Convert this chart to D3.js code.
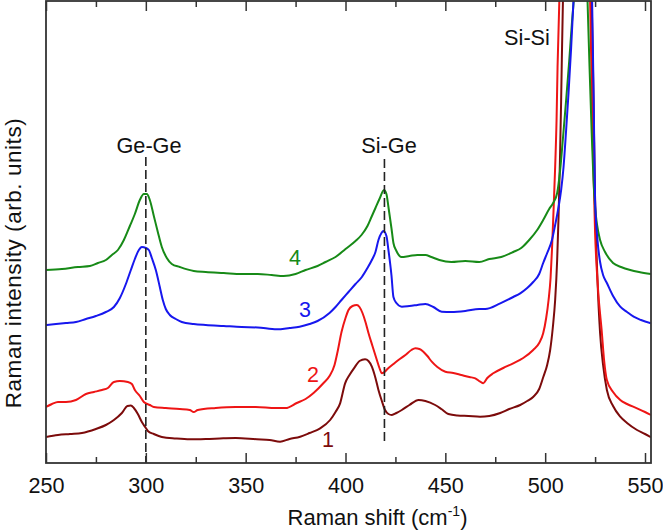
<!DOCTYPE html>
<html>
<head>
<meta charset="utf-8">
<script src="https://cdn.jsdelivr.net/npm/d3@7"></script>
<style>
  html, body { margin: 0; padding: 0; background: #fff; }
  svg { display: block; font-family: "Liberation Sans", Arial, sans-serif; }
</style>
</head>
<body>
<svg id="chart" width="663" height="530"></svg>
<script>
// ---- data (Raman shift in cm^-1, intensity in arbitrary units) ----
const majorTicks = [250, 300, 350, 400, 450, 500, 550];
const minorTicks = [275, 325, 375, 425, 475, 525];
const seriesNames = ["1", "2", "3", "4"];
const bandNames = ["Ge-Ge", "Si-Ge", "Si-Si"];
const bandShifts = [300, 419.5, 519];

const curve1 = [[250,26],[256,28],[262,29],[268,30],[275,34],[280,38],[284,43],[288,50],[290.8,57],[292.5,57.5],[294,55],[296,49],[298,41],[300,35],[301,32],[304,29],[308,26],[315,24.5],[322,23.7],[330,24],[338.8,24.7],[345,25],[355.6,23.7],[362,23],[367.2,21.3],[372,24],[377.3,26.3],[382,30],[387.3,34.7],[392.3,43],[395,51],[397.3,59.7],[399.8,79.7],[402,88],[404.8,96.3],[407,102],[409.8,103.7],[411.5,102],[413.2,96.3],[415,85],[416.5,73],[418.2,62],[419.8,53],[421.5,49],[423.2,48],[425.5,50],[428.2,53],[432,58],[436.6,63],[440,62],[444.9,58],[448,54],[451.5,49],[456,47.5],[461.6,47],[467.4,46.3],[472,47],[477.5,50],[482,54],[487.5,58],[491,62],[494.1,66.3],[497,74],[499.1,86.3],[501,98],[502.5,113],[503.8,135],[505,163],[506,203],[506.7,246],[507.4,303],[508,363],[508.9,463],[516,700],[523.3,463],[524.2,363],[525,263],[526.2,183],[527.5,130],[529,98],[530.9,73],[534,57],[537.6,46.3],[541,40],[546,33],[550,29],[553,25.7]];

const curve2 = [[250,56],[253,59],[256,61],[260,61],[265,63],[270,69],[274,71],[278,73],[281,75],[284,81],[287,82],[291,81],[293,79],[294.5,73],[297,67],[299,61],[302,58],[304,56],[310,55],[317,54],[322,53],[324,51],[326,53],[335,55],[345,56],[355,56],[365,55],[370,55],[375.6,60],[380,64],[384,70],[389,80],[392,87],[394.5,98],[396,111],[398,131],[400,145],[401.5,153],[403.5,157],[405.7,158],[407,156],[408.5,150],[410,141],[411.5,130],[413.5,117],[415.7,103],[417,95],[418.2,89.7],[419.5,91],[421,94],[424,99],[426.5,103],[430,108],[433,113],[435,114.7],[437,114],[439,111.3],[441,107],[443.2,101.3],[446,96],[450,91.3],[454,90],[458,88],[462,86],[465,84.7],[467.5,81.3],[469,79.7],[471,85],[474,89.7],[479,95],[484,99.7],[489,105],[494,113],[497,120],[499,129.7],[500.5,145],[501.7,163],[502.7,185],[503.4,213],[504.2,253],[505,296],[505.7,343],[506.2,396],[507.1,463],[515,700],[522.5,463],[523.7,330],[525,230],[526.5,173],[528.4,130],[529.5,103],[530.9,83],[534,71],[537.6,63],[541,59],[546,54.7],[550,51],[553,48]];

const curve3 = [[250,138],[255,139],[260,140],[265,141],[270,144],[275,147],[280,151],[284,156],[287,165],[290,179],[292.5,193],[294.5,204],[296.5,213],[298,216],[300,215],[301.5,213],[303,205],[305,193],[307,176],[308.5,163],[310,154],[312,148],[315,144],[318,141],[324,139],[330,138],[339,137],[348,136],[356,135.5],[365.6,133.7],[372,135],[377,136.3],[382,139],[386,142],[392,150],[395,156],[398,163],[401.5,171],[405,179],[408.2,186],[411,195],[413.2,203],[415,211],[416.5,223],[418,230],[419,232],[420.5,227],[421.5,213],[423,188],[424,166],[425.5,160],[428.2,156.3],[432,157],[436,158],[440,159],[444,156],[448.2,151.3],[453,151],[460,152],[467,154],[470,154],[477.5,159.7],[484,166],[487.5,169.7],[491,175],[494,181],[497,189],[499,200],[501,210],[503.4,223],[505,238],[506.7,256],[508,273],[509.2,296],[510.5,333],[511.7,370],[513,415],[514.2,463],[519,700],[523.5,463],[524.3,363],[525,263],[526.2,223],[527.5,201],[529,188],[530.9,180],[534,167],[537.6,156.3],[541,151],[544.3,146.3],[548,143],[553,139.7]];

const curve4 = [[250,193],[258,194],[266,196],[272,197],[276,200],[280,203],[283,208],[286,213],[289,223],[292,237],[294.5,249],[297,263],[299,269],[300.5,269],[302,263],[304,247],[306,231],[308,216],[310.5,205],[313,199],[317,196],[324,192],[330,191],[339,190],[348,189],[356,189],[363,188],[369,187],[375,189],[380,193],[386,197],[390,201],[395,206],[400,214],[405,222],[408,228],[411,237],[413,246],[415,255],[417,264],[419.3,273],[420.5,269],[421.5,256],[423,235],[424,220],[425.5,212],[428,206],[432,207],[436,208],[440,208],[443,206],[447,203],[453,201],[460,202],[467,201],[472,204],[478,206],[484,211],[488,215],[492,223],[496,233],[499,243],[502,254],[504,260],[506,270],[507.5,293],[509,327],[510.5,363],[512,401],[513.5,443],[514.5,468],[518,700],[521.2,463],[522.2,397],[523.3,330],[524.2,283],[525,256],[526,238],[527.5,223],[530,211],[534,200],[538,196],[542.6,193],[547,191],[553,189]];

// ---- layout ----
const svg = d3.select("#chart");
const L = 46, R = 651, T = 1, B = 463;
const x = d3.scaleLinear().domain([250, 553]).range([L, R]);
const y = d3.scaleLinear().domain([0, 462]).range([B, T]);

svg.append("defs").append("clipPath").attr("id", "plotclip")
  .append("rect").attr("x", L).attr("y", T).attr("width", R - L).attr("height", B - T);

const series = [
  { name: seriesNames[0], data: curve1, color: "#7c0b0b" },
  { name: seriesNames[1], data: curve2, color: "#ee1515" },
  { name: seriesNames[3], data: curve4, color: "#178a17" },
  { name: seriesNames[2], data: curve3, color: "#1717ee" }
];

const line = d3.line().x(d => x(d[0])).y(d => y(d[1])).curve(d3.curveMonotoneX);
const plot = svg.append("g").attr("clip-path", "url(#plotclip)");
series.forEach(s => {
  plot.append("path").datum(s.data)
    .attr("d", line)
    .attr("fill", "none")
    .attr("stroke", s.color)
    .attr("stroke-width", 2)
    .attr("stroke-linejoin", "round");
});

// dashed band markers
const dashSpans = [[306, 0], [304, 18]];
[0, 1].forEach(i => {
  svg.append("line")
    .attr("x1", x(bandShifts[i])).attr("x2", x(bandShifts[i]))
    .attr("y1", y(dashSpans[i][0])).attr("y2", y(dashSpans[i][1]))
    .attr("stroke", "#222").attr("stroke-width", 1.6)
    .attr("stroke-dasharray", "9,4");
});

// band labels
const bandLabelPos = [[149, 153.3], [389, 153.3], [527, 45]];
bandNames.forEach((t, i) => {
  svg.append("text").attr("x", bandLabelPos[i][0]).attr("y", bandLabelPos[i][1])
    .attr("text-anchor", "middle").attr("font-size", 21.7).attr("fill", "#111").text(t);
});

// series number labels
const numberLabelPos = { "1": [328, 446.5, "#7c0b0b"], "2": [313, 381.5, "#ee1515"], "3": [305, 316.5, "#1717ee"], "4": [295, 264.5, "#178a17"] };
seriesNames.forEach(n => {
  const p = numberLabelPos[n];
  svg.append("text").attr("x", p[0]).attr("y", p[1]).attr("text-anchor", "middle")
    .attr("font-size", 21.5).attr("fill", p[2]).text(n);
});

// ---- axes ----
const axisColor = "#333";
const gB = svg.append("g").attr("transform", `translate(0,${B})`)
  .call(d3.axisBottom(x).tickValues(majorTicks).tickSizeInner(-10).tickSizeOuter(0).tickPadding(15).tickFormat(d3.format("d")));
const gBm = svg.append("g").attr("transform", `translate(0,${B})`)
  .call(d3.axisBottom(x).tickValues(minorTicks).tickSizeInner(-6).tickSizeOuter(0).tickFormat(""));
const gT = svg.append("g").attr("transform", `translate(0,${T})`)
  .call(d3.axisTop(x).tickValues(majorTicks).tickSizeInner(-10).tickSizeOuter(0).tickFormat(""));
const gTm = svg.append("g").attr("transform", `translate(0,${T})`)
  .call(d3.axisTop(x).tickValues(minorTicks).tickSizeInner(-6).tickSizeOuter(0).tickFormat(""));
[gB, gBm, gT, gTm].forEach(g => {
  g.selectAll("path").remove();
  g.selectAll("line").attr("stroke", axisColor).attr("stroke-width", 1.5);
  g.selectAll("text").attr("font-size", 21.6).attr("fill", "#111")
    .attr("font-family", "'Liberation Sans', Arial, sans-serif");
});

// frame
svg.append("rect").attr("x", L).attr("y", T).attr("width", R - L).attr("height", B - T)
  .attr("fill", "none").attr("stroke", axisColor).attr("stroke-width", 1.8);

// axis titles
const xt = svg.append("text").attr("x", 377.5).attr("y", 525).attr("text-anchor", "middle")
  .attr("font-size", 22).attr("fill", "#111");
xt.append("tspan").text("Raman shift (cm");
xt.append("tspan").attr("font-size", 14).attr("dy", -9).text("-1");
xt.append("tspan").attr("dy", 9).text(")");

svg.append("text").attr("transform", `translate(21,263) rotate(-90)`)
  .attr("text-anchor", "middle").attr("font-size", 22.5).attr("fill", "#111")
  .attr("letter-spacing", 0.55)
  .text("Raman intensity (arb. units)");
</script>
</body>
</html>
